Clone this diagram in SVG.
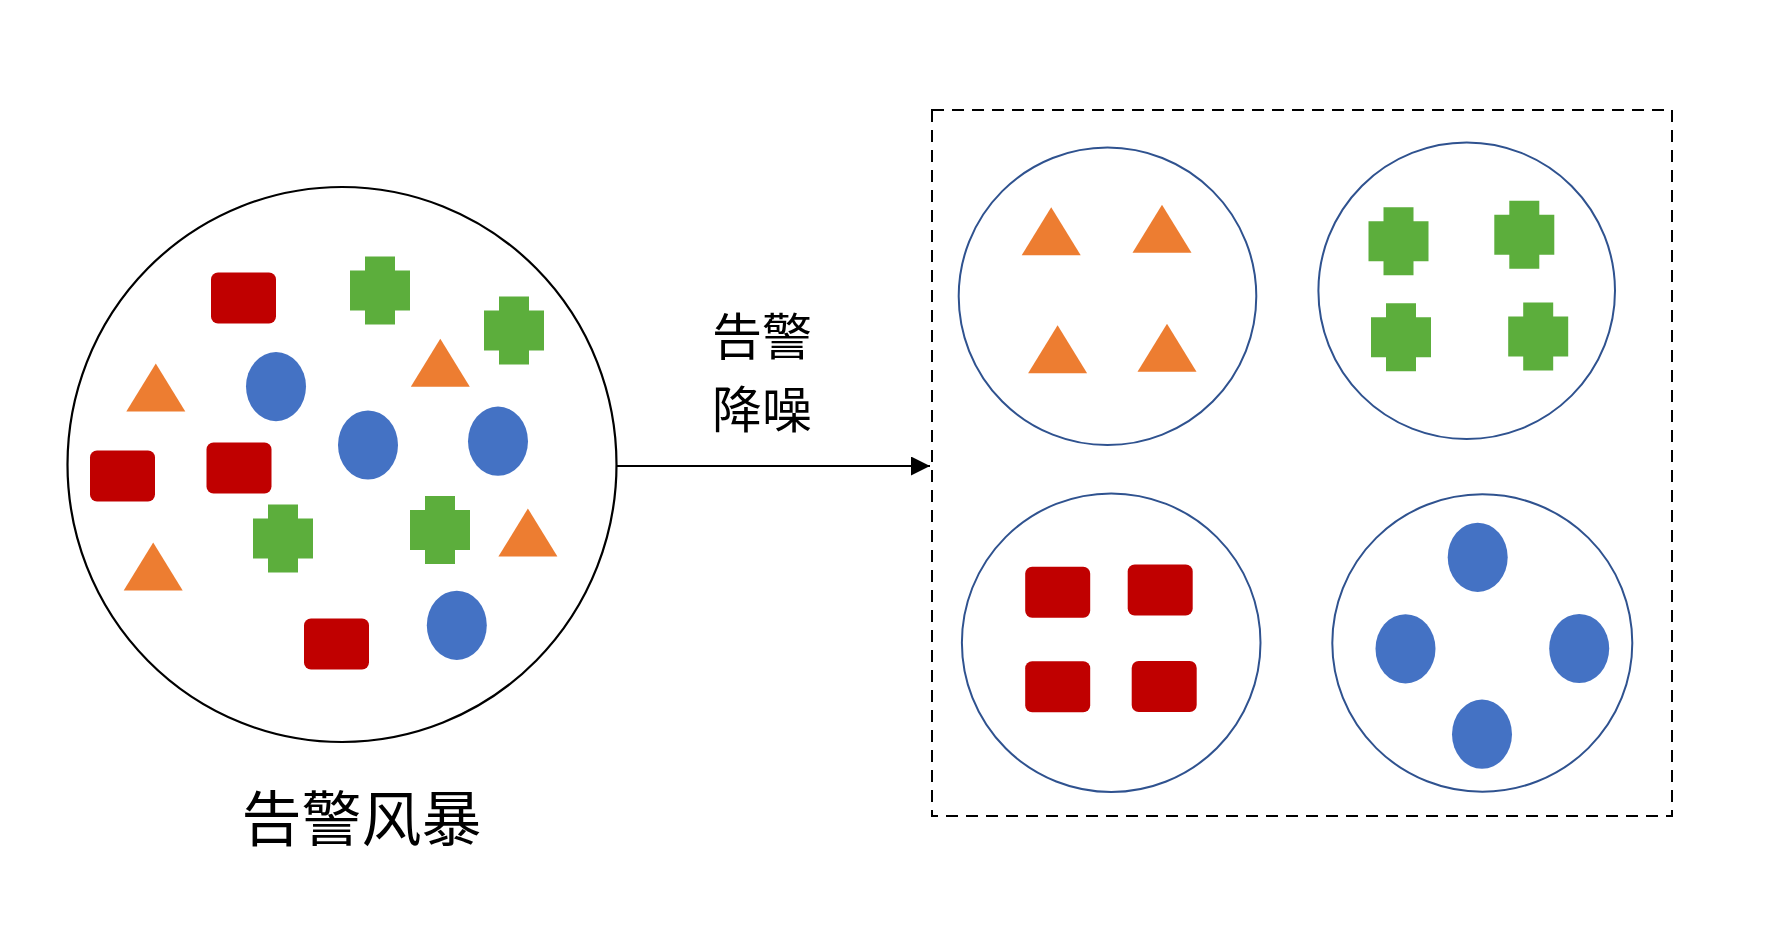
<svg xmlns="http://www.w3.org/2000/svg" width="1778" height="944" viewBox="0 0 1778 944">
<style>
.bg{fill:#ffffff}
.main{fill:none;stroke:#000000;stroke-width:2.2}
.grp{fill:none;stroke:#2F528F;stroke-width:2}
.box{fill:none;stroke:#000000;stroke-width:2;stroke-dasharray:12 8}
.red{fill:#C00000}
.org{fill:#ED7D31}
.grn{fill:#5CAE3C}
.blu{fill:#4472C4}
.lbl{font-family:"Noto Sans CJK SC","Noto Sans CJK JP",sans-serif;fill:#000000;text-anchor:middle}
.conn{stroke:#000000;stroke-width:2;fill:none}
</style>
<defs>
<path id="cross" d="M-15,-34 H15 V-20 H30 V20 H15 V34 H-15 V20 H-30 V-20 H-15 Z"/>
<path id="tri" d="M0,-24 L29.5,24 L-29.5,24 Z"/>
<rect id="rr" x="-32.5" y="-25.5" width="65" height="51" rx="7"/>
<ellipse id="ell" cx="0" cy="0" rx="30" ry="34.6"/>
<marker id="arrow" markerWidth="20" markerHeight="20" refX="19" refY="9.5" orient="auto" markerUnits="userSpaceOnUse">
<path d="M0,0 L19,9.5 L0,19 Z" fill="#000000"/>
</marker>
</defs>
<rect class="bg" x="0" y="0" width="1778" height="944"/>

<g id="storm">
<ellipse class="main" cx="342" cy="464.5" rx="274.5" ry="277.5"/>
<use href="#rr" class="red" x="243.5" y="298"/>
<use href="#rr" class="red" x="122.5" y="476"/>
<use href="#rr" class="red" x="239" y="468"/>
<use href="#rr" class="red" x="336.5" y="644"/>
<use href="#cross" class="grn" x="380" y="290.5"/>
<use href="#cross" class="grn" x="514" y="330.5"/>
<use href="#cross" class="grn" x="283" y="538.5"/>
<use href="#cross" class="grn" x="440" y="530"/>
<use href="#tri" class="org" x="155.8" y="387.5"/>
<use href="#tri" class="org" x="440.3" y="362.7"/>
<use href="#tri" class="org" x="153.2" y="566.5"/>
<use href="#tri" class="org" x="527.9" y="532.5"/>
<use href="#ell" class="blu" x="276" y="386.6"/>
<use href="#ell" class="blu" x="368" y="445"/>
<use href="#ell" class="blu" x="498" y="441.2"/>
<use href="#ell" class="blu" x="456.8" y="625.3"/>
</g>

<g id="storm-label">
<text class="lbl" x="361.5" y="841" font-size="60">告警风暴</text>
</g>

<g id="connectors">
<line class="conn" x1="616" y1="466" x2="930" y2="466" marker-end="url(#arrow)"/>
</g>

<g id="denoise-label">
<text class="lbl" font-size="50"><tspan x="762" y="355">告警</tspan><tspan x="762" y="428">降噪</tspan></text>
</g>

<g id="result-box">
<rect class="box" x="932" y="110" width="740" height="706"/>
</g>

<g id="group-triangles">
<circle class="grp" cx="1107.5" cy="296.3" r="148.8"/>
<use href="#tri" class="org" x="1051.2" y="231.3"/>
<use href="#tri" class="org" x="1162" y="228.8"/>
<use href="#tri" class="org" x="1057.6" y="349.3"/>
<use href="#tri" class="org" x="1167" y="347.7"/>
</g>

<g id="group-crosses">
<circle class="grp" cx="1466.7" cy="290.8" r="148.3"/>
<use href="#cross" class="grn" x="1398.5" y="241.3"/>
<use href="#cross" class="grn" x="1524.3" y="234.7"/>
<use href="#cross" class="grn" x="1401" y="337.2"/>
<use href="#cross" class="grn" x="1538.2" y="336.5"/>
</g>

<g id="group-rects">
<circle class="grp" cx="1111.2" cy="642.7" r="149.3"/>
<use href="#rr" class="red" x="1057.7" y="592.2"/>
<use href="#rr" class="red" x="1160.2" y="590"/>
<use href="#rr" class="red" x="1057.7" y="686.7"/>
<use href="#rr" class="red" x="1164.2" y="686.5"/>
</g>

<g id="group-ellipses">
<ellipse class="grp" cx="1482.3" cy="643" rx="150" ry="148.7"/>
<use href="#ell" class="blu" x="1477.7" y="557.3"/>
<use href="#ell" class="blu" x="1405.5" y="648.8"/>
<use href="#ell" class="blu" x="1579.2" y="648.5"/>
<use href="#ell" class="blu" x="1482" y="734.2"/>
</g>
</svg>
